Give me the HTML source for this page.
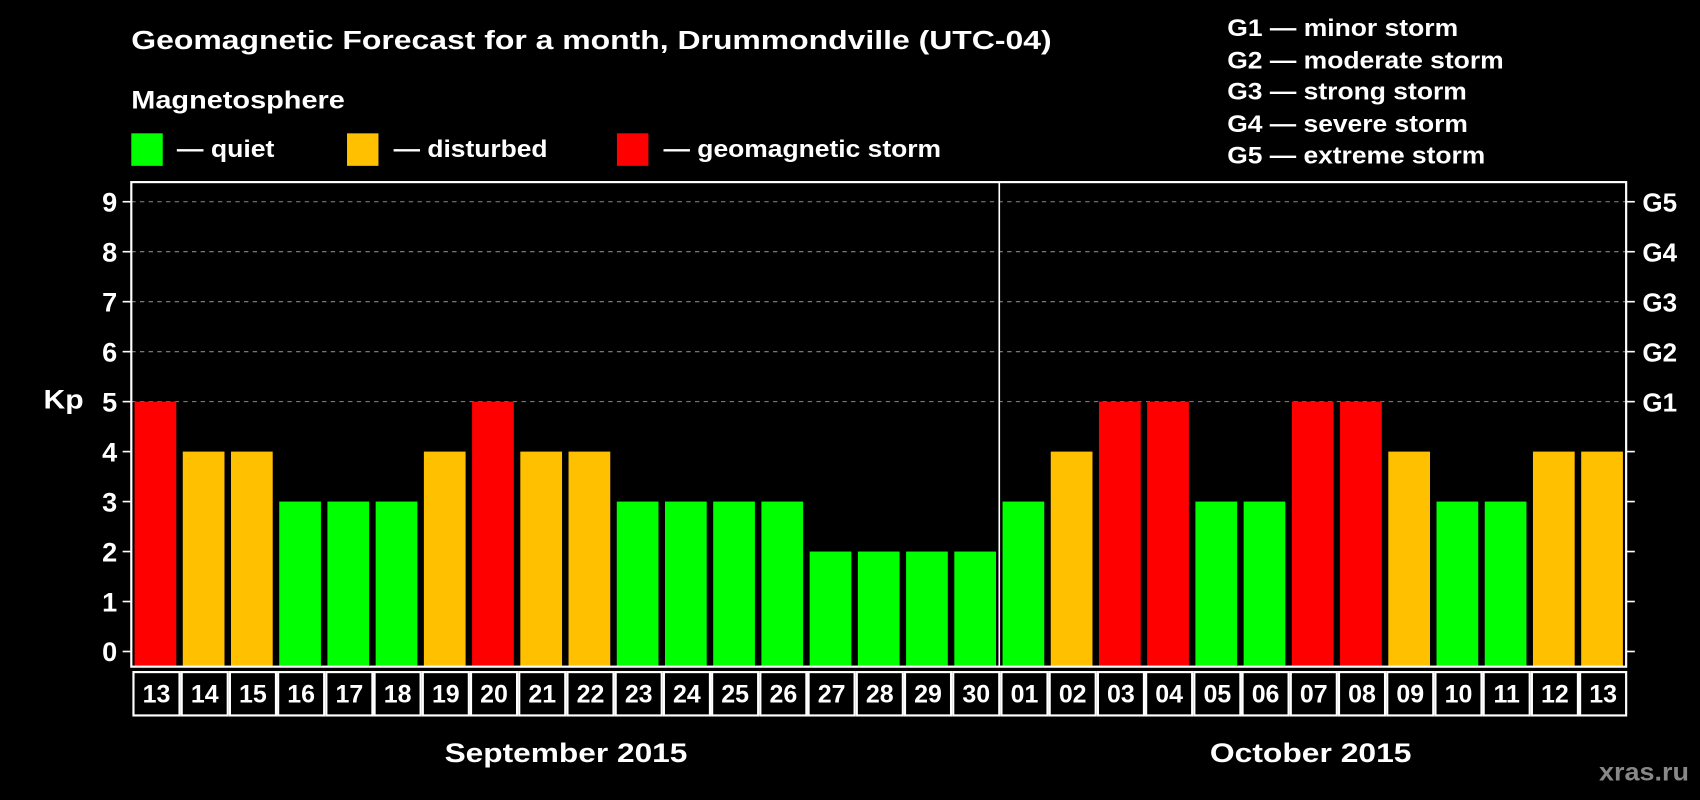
<!DOCTYPE html>
<html><head><meta charset="utf-8"><style>
html,body{margin:0;padding:0;background:#000;}
svg{display:block;font-family:"Liberation Sans",sans-serif;font-weight:bold;}
</style></head><body>
<svg id="chart" width="1700" height="800" viewBox="0 0 1568 738" xmlns="http://www.w3.org/2000/svg">
<rect x="0" y="0" width="1568" height="738" fill="#000"/>
<text x="121" y="45" fill="#fff" font-size="24" textLength="849" lengthAdjust="spacingAndGlyphs">Geomagnetic Forecast for a month, Drummondville (UTC-04)</text>
<text x="121" y="100" fill="#fff" font-size="23" textLength="197" lengthAdjust="spacingAndGlyphs">Magnetosphere</text>
<g><rect x="121" y="123" width="29" height="30" fill="#00ff00"/><text x="163" y="145" fill="#fff" font-size="22" textLength="90" lengthAdjust="spacingAndGlyphs">— quiet</text></g>
<g><rect x="320" y="123" width="29" height="30" fill="#ffc000"/><text x="363" y="145" fill="#fff" font-size="22" textLength="142" lengthAdjust="spacingAndGlyphs">— disturbed</text></g>
<g><rect x="569" y="123" width="29" height="30" fill="#ff0000"/><text x="612" y="145" fill="#fff" font-size="22" textLength="256" lengthAdjust="spacingAndGlyphs">— geomagnetic storm</text></g>
<g fill="#fff" font-size="22">
<text x="1132" y="33" textLength="213" lengthAdjust="spacingAndGlyphs">G1 — minor storm</text>
<text x="1132" y="63" textLength="255" lengthAdjust="spacingAndGlyphs">G2 — moderate storm</text>
<text x="1132" y="92" textLength="221" lengthAdjust="spacingAndGlyphs">G3 — strong storm</text>
<text x="1132" y="122" textLength="222" lengthAdjust="spacingAndGlyphs">G4 — severe storm</text>
<text x="1132" y="151" textLength="238" lengthAdjust="spacingAndGlyphs">G5 — extreme storm</text>
</g>
<text x="40" y="377" fill="#fff" font-size="25" textLength="37" lengthAdjust="spacingAndGlyphs">Kp</text>
<g id="grid"></g>
<g id="bars"></g>
<g id="axes"></g>
<text x="410" y="703" fill="#fff" font-size="25" textLength="224" lengthAdjust="spacingAndGlyphs">September 2015</text>
<text x="1116" y="703" fill="#fff" font-size="25" textLength="186" lengthAdjust="spacingAndGlyphs">October 2015</text>
<text x="1475" y="720" fill="#888" font-size="23" textLength="83" lengthAdjust="spacingAndGlyphs">xras.ru</text>
</svg>
<script>
const days = ["13","14","15","16","17","18","19","20","21","22","23","24","25","26","27","28","29","30","01","02","03","04","05","06","07","08","09","10","11","12","13"];
const kpValues = [5,4,4,3,3,3,4,5,4,4,3,3,3,3,2,2,2,2,3,4,5,5,3,3,5,5,4,3,3,4,4];
const yTicks = [0,1,2,3,4,5,6,7,8,9];
const gLabels = ["","","","","","G1","G2","G3","G4","G5"];
const monthBreakIndex = 18;

const NS="http://www.w3.org/2000/svg";
const L=121,R=1500,T=168,B=615;
const cw=(R-L)/days.length;
const y=v=>601-v*46.1;
const x=i=>L+i*cw;
function mk(tag,attrs,parent){const e=document.createElementNS(NS,tag);for(const k in attrs)e.setAttribute(k,attrs[k]);parent.appendChild(e);return e;}
const grid=document.getElementById('grid'),bars=document.getElementById('bars'),axes=document.getElementById('axes');
yTicks.forEach((t,i)=>{
  if(t>=5){const g=mk('line',{x1:L,x2:R,y1:y(t),y2:y(t),stroke:'#888','stroke-width':1,'stroke-dasharray':'4,4'},grid);
    
    }
  const lt=mk('line',{x1:L-8,x2:L,y1:y(t),y2:y(t),stroke:'#fff','stroke-width':1.5},axes);
  
  
  const rt=mk('line',{x1:R,x2:R+8,y1:y(t),y2:y(t),stroke:'#fff','stroke-width':1.5},axes);
  
  
  const tl=mk('text',{x:L-13,y:y(t)+9,fill:'#fff','font-size':25,'text-anchor':'end'},axes);
  tl.textContent=t;
  
  
  if(gLabels[i]){const gl=mk('text',{x:R+15,y:y(t)+9,fill:'#fff','font-size':24},axes);
    gl.textContent=gLabels[i];
    
    }
});
kpValues.forEach((v,i)=>{
  const c=v>=5?'#ff0000':(v>=4?'#ffc000':'#00ff00');
  const b=mk('rect',{x:x(i)+3,y:y(v),width:cw-6,height:B-y(v),fill:c},bars);
  
  
  const cell=mk('rect',{x:x(i)+2,y:620,width:cw-2,height:40,fill:'none',stroke:'#fff','stroke-width':2},axes);
  
  
  const dl=mk('text',{x:x(i)+cw/2+1,y:648,fill:'#fff','font-size':23,'text-anchor':'middle'},axes);
  dl.textContent=days[i];
  
  
});
const fr=mk('rect',{x:L,y:T,width:R-L,height:B-T,fill:'none',stroke:'#fff','stroke-width':2},axes);


const dv=mk('line',{x1:x(monthBreakIndex),x2:x(monthBreakIndex),y1:T,y2:B,stroke:'#fff','stroke-width':1.5},axes);


</script>
</body></html>
